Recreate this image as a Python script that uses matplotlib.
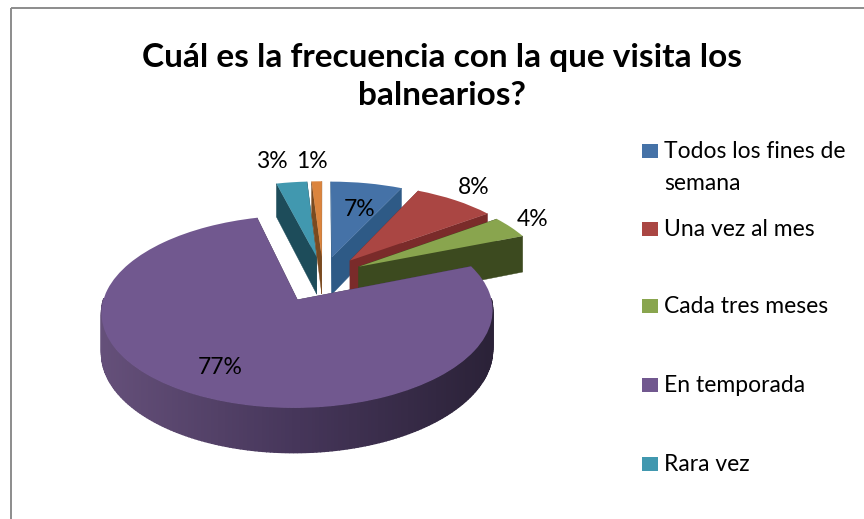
"""
Exploded 3D-look pie: frecuencia de visita a los balnearios.
Top faces are the wedges from ax.pie, pushed through a small perspective
transform. Walls are filled from the same wedge angles.
"""
import numpy as np
import matplotlib
matplotlib.use("Agg")
import matplotlib.pyplot as plt
import matplotlib.colors as mcolors
from matplotlib.patches import Rectangle
from matplotlib.transforms import Transform

plt.rcParams["font.family"] = ["Lato", "DejaVu Sans"]

# ── data ──
TITLE = "Cuál es la frecuencia con la que visita los\nbalnearios?"
categories = ["Todos los fines de\nsemana", "Una vez al mes", "Cada tres meses",
              "En temporada", "Rara vez", "Otro"]
values = [7, 8, 4, 77, 3, 1]
value_labels = ["7%", "8%", "4%", "77%", "3%", "1%"]

# ── style ──
top_colors = ["#4572A7", "#AA4643", "#89A54E", "#71588F", "#4198AF", "#DB843D"]
wall_colors = ["#2E5A86", "#7A2B2A", "#3C4A1F", "#4A3A5C", "#1D4C5A", "#7A4A20"]
PURPLE_WALL = ["#2B2238", "#46365A", "#65507A"]  # right, front, left
explode = [0.22, 0.23, 0.22, 0.29, 0.22, 0.22]
label_pos = [(360, 210), (474, 188), (533, 219), (220, 368), (272, 162), (312, 161)]
legend_y = [151, 229, 306, 385, 464]
draw_order = [4, 5, 0, 1, 2, 3]

# projection settings, flat pie coords -> pixels
CX, CY = 323, 276
BX, BY = 188, 89
PERSP = 0.12
DEPTH = 38


def project(x, y, z=0.0):
    w = 1 + PERSP * np.asarray(y)
    return CX + BX * np.asarray(x) / w, CY + (-BY * np.asarray(y) + DEPTH * z) / w


class Tilt(Transform):
    input_dims = 2
    output_dims = 2

    def transform_non_affine(self, xy):
        xy = np.asarray(xy)
        px, py = project(xy[:, 0], xy[:, 1])
        return np.column_stack([px, py])


fig = plt.figure(figsize=(8.64, 5.19), dpi=100)
ax = fig.add_axes([0, 0, 1, 1])

wedges, _ = ax.pie(values, colors=top_colors, explode=explode,
                   startangle=90, counterclock=False, radius=1.0)
ax.set_aspect("auto")
ax.set_xlim(0, 864)
ax.set_ylim(519, 0)
ax.axis("off")

tilt = Tilt()


def corner(w, deg, z=0.0):
    t = np.radians(deg)
    return project(w.center[0] + w.r * np.cos(t), w.center[1] + w.r * np.sin(t), z)


for rank, i in enumerate(draw_order):
    w = wedges[i]
    base = rank * 10
    wall = wall_colors[i]

    # radial side faces, the one lower on the screen goes last
    faces = []
    for deg in (w.theta1, w.theta2):
        tx, ty = project(*w.center)
        bx, by = project(*w.center, 1.0)
        ox, oy = corner(w, deg)
        ex, ey = corner(w, deg, 1.0)
        faces.append((oy, [tx, ox, ex, bx], [ty, oy, ey, by]))
    faces.sort(key=lambda f: f[0])
    for n, (_, fx, fy) in enumerate(faces):
        ax.fill(fx, fy, color=wall, lw=0.3, zorder=base + n)

    # outer wall, only the part facing the viewer
    degs = np.linspace(w.theta1, w.theta2, int(abs(w.theta2 - w.theta1)) + 2)
    for a, b in zip(degs[:-1], degs[1:]):
        if np.sin(np.radians((a + b) / 2)) > 0.02:
            continue
        xa, ya = corner(w, a)
        xb, yb = corner(w, b)
        xc, yc = corner(w, b, 1.0)
        xd, yd = corner(w, a, 1.0)
        col = wall
        if i == 3:
            f = (xa - 100) / 390.0
            rgb = [np.interp(f, [0, 0.5, 1], [mcolors.to_rgb(c)[k] for c in PURPLE_WALL[::-1]])
                   for k in range(3)]
            col = tuple(rgb)
        ax.fill([xa, xb, xc, xd], [ya, yb, yc, yd], color=col, lw=1.0, zorder=base + 2)

    w.set_transform(tilt + ax.transData)
    w.set_zorder(base + 3)
    w.set_linewidth(0)

# value labels
for txt, (lx, ly) in zip(value_labels, label_pos):
    ax.text(lx, ly, txt, fontsize=16.5, ha="center", va="center", color="black", zorder=100)

# legend, swatch lines up with the first line of its label
for name, col, ly in zip(categories, top_colors, legend_y):
    ax.add_patch(Rectangle((642, ly - 7), 16, 14, color=col, lw=0, zorder=100))
    ax.text(664, ly - 10, name, fontsize=16.5, ha="left", va="top",
            linespacing=1.64, color="black", zorder=100)

# title
ax.text(442, 76.5, TITLE, fontsize=24, fontweight="bold", ha="center", va="center",
        linespacing=1.41, color="black", zorder=100)

# chart frame, runs off the right and bottom of the picture
ax.add_patch(Rectangle((11, 8), 1000, 1000, fill=False, edgecolor="#8C8C8C", lw=1.4, zorder=90))

fig.savefig("out.png", dpi=100)
